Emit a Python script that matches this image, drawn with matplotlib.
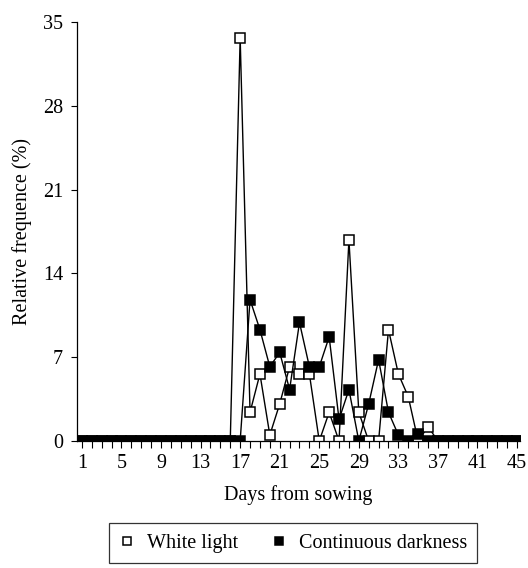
import matplotlib
matplotlib.use("Agg")
import matplotlib.pyplot as plt
import numpy as np

plt.rcParams['font.family'] = ['Liberation Serif', 'DejaVu Serif']

days = np.arange(1, 46)

# values from day 16 to day 36; all other days are zero
white_mid = [0, 33.7, 2.4, 5.6, 0.5, 3.1, 6.2, 5.6, 5.6, 0, 2.4, 0, 16.8,
             2.4, 0, 0, 9.3, 5.6, 3.7, 0, 1.2]
dark_mid = [0, 0, 11.8, 9.3, 6.2, 7.4, 4.3, 9.9, 6.2, 6.2, 8.7, 1.8, 4.3,
            0, 3.1, 6.8, 2.4, 0.5, 0, 0.6, 0]

white = [0] * 15 + white_mid + [0] * 9
dark = [0] * 15 + dark_mid + [0] * 9

fs = 14.5

fig = plt.figure(figsize=(5.28, 5.68), dpi=100)
ax = fig.add_axes([77 / 528, 127 / 568, 443 / 528, 419 / 568])

ax.plot(days, white, color='black', lw=1.0, marker='s', ms=7.5,
        mfc='white', mec='black', mew=1.1, label='White light', zorder=2)
ax.plot(days, dark, color='black', lw=1.0, marker='s', ms=7.5,
        mfc='black', mec='black', mew=1.1, label='Continuous darkness', zorder=3)

ax.set_xlim(0.5, 45.3)
ax.set_ylim(0, 35)
ax.set_yticks(np.arange(0, 36, 7))
ax.set_xticks(days, minor=True)
ax.set_xticks(np.arange(1, 46, 4))
ax.tick_params(axis='x', which='both', direction='out', length=5, width=0.8,
               labelsize=fs, pad=4)
ax.tick_params(axis='y', direction='out', length=4, width=0.8, labelsize=fs, pad=6)
for s in ['top', 'right']:
    ax.spines[s].set_visible(False)
for s in ['left', 'bottom']:
    ax.spines[s].set_linewidth(0.9)

ax.set_xlabel('Days from sowing', fontsize=fs, labelpad=9)
ax.set_ylabel('Relative frequence (%)', fontsize=fs, labelpad=8)

leg = fig.legend(loc='center', bbox_to_anchor=(293 / 528, 1 - 543 / 568), ncol=2,
                 fontsize=fs, frameon=True, fancybox=False, edgecolor='black',
                 handlelength=0.8, handletextpad=0.6, columnspacing=1.6,
                 borderpad=0.5, markerscale=0.75)
leg.get_frame().set_linewidth(0.9)
for line in leg.get_lines():
    line.set_linestyle('none')

fig.savefig('out.png', dpi=100)
